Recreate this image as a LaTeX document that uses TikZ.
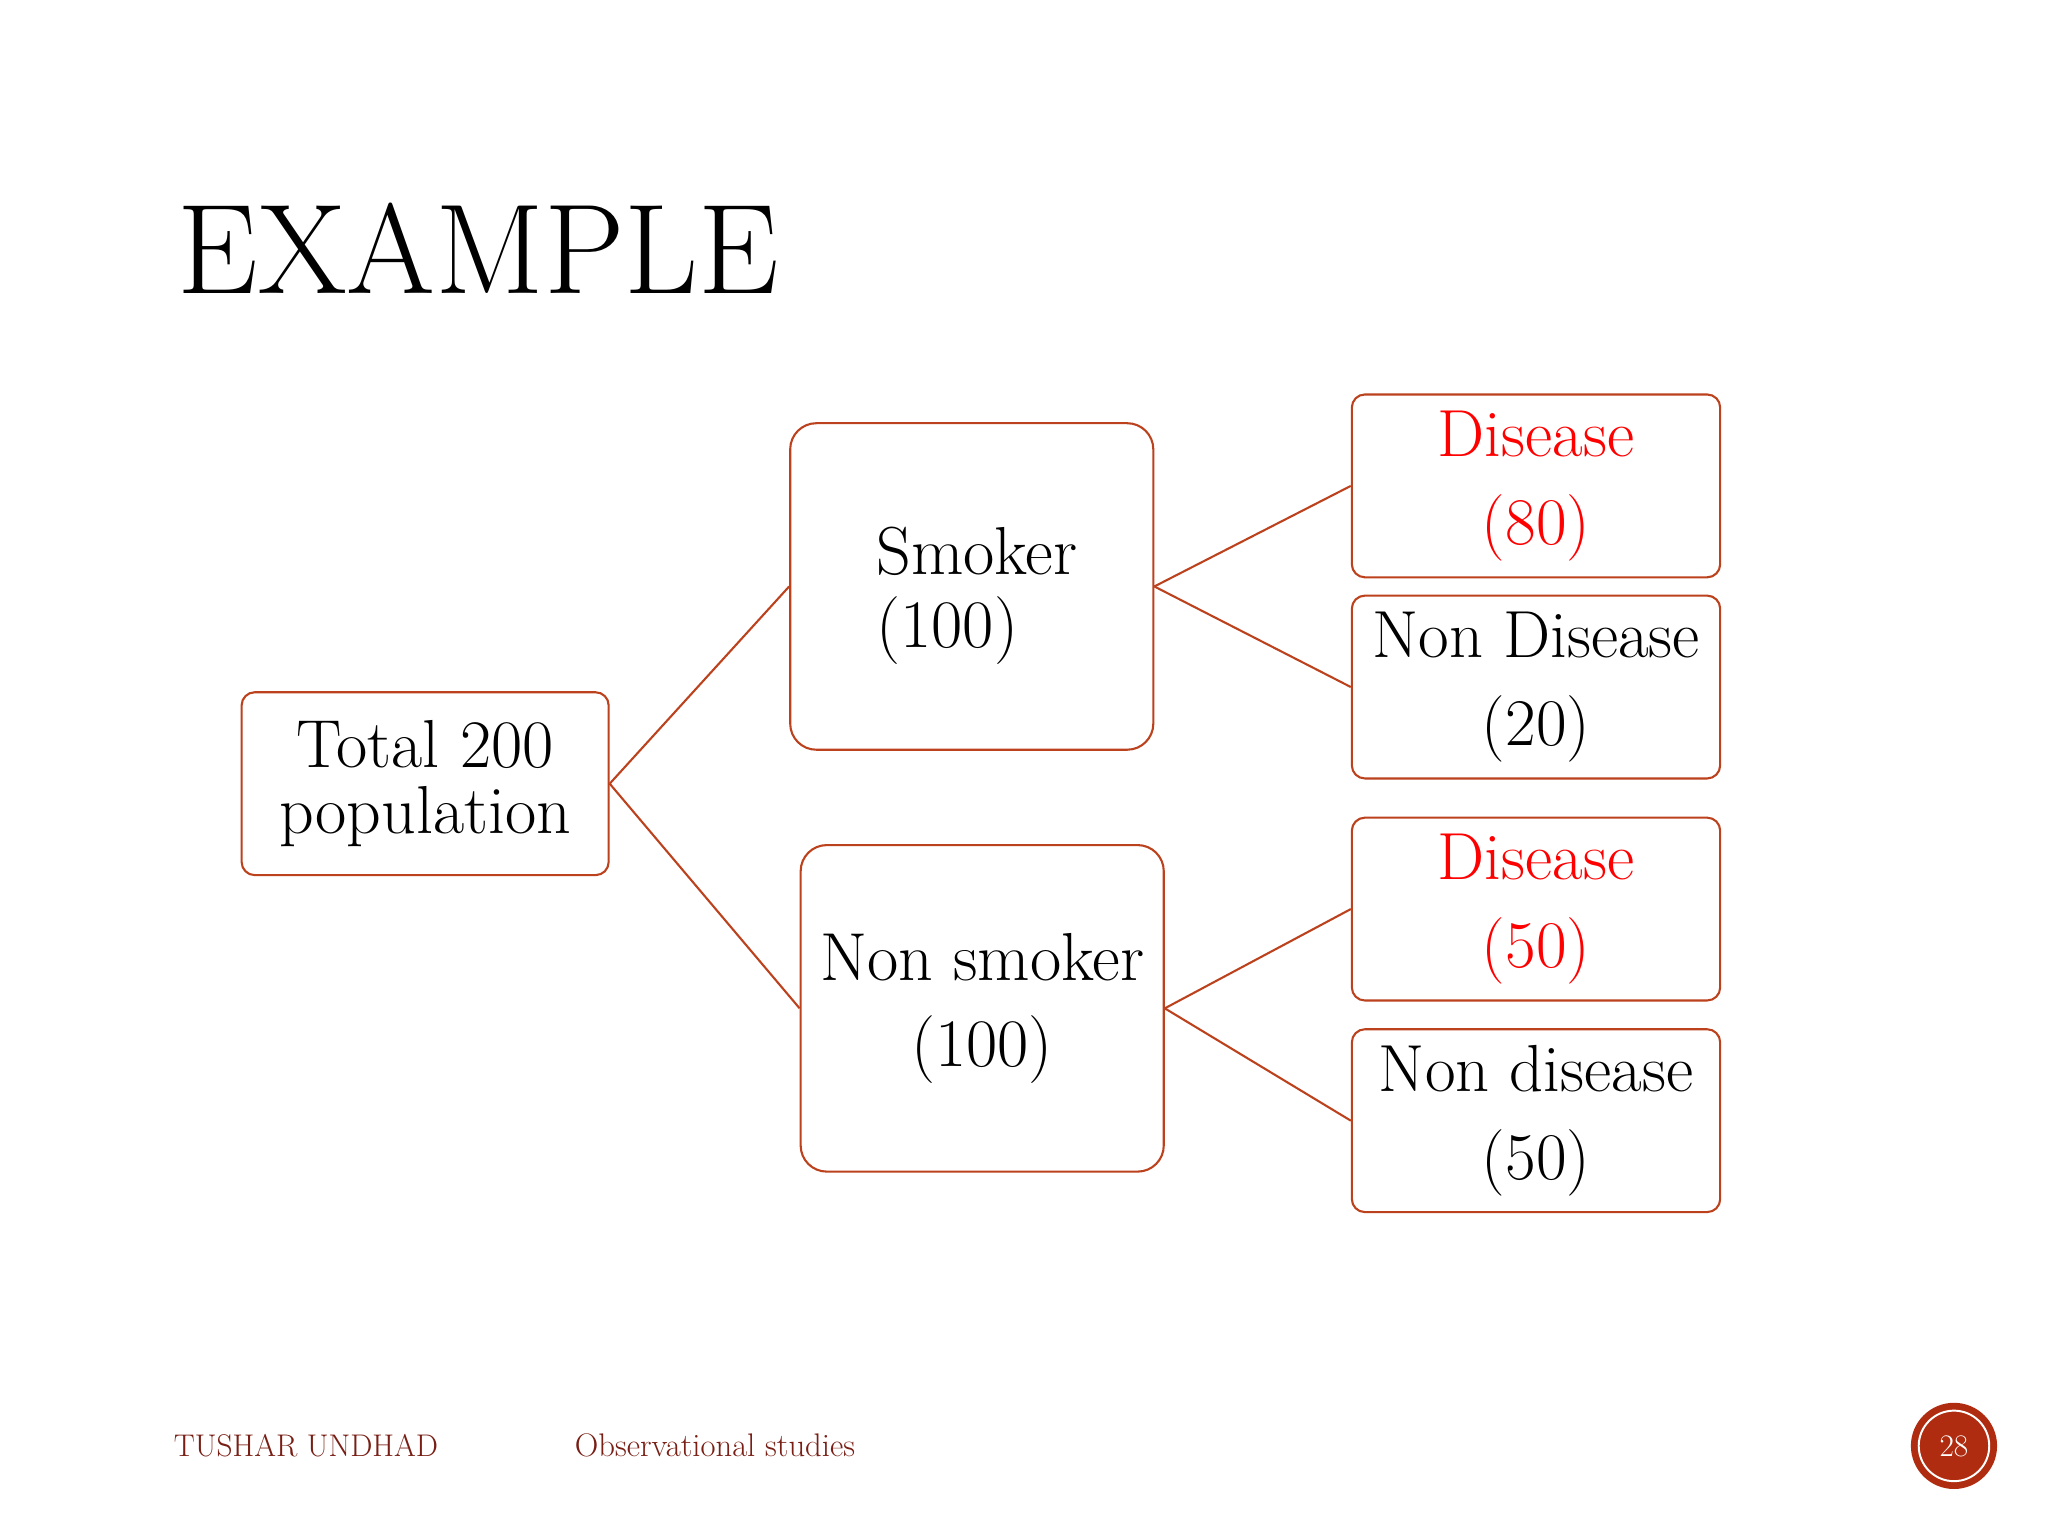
\documentclass[tikz,border=0pt]{standalone}
\usepackage{xcolor}
\definecolor{brd}{RGB}{188,66,30}
\definecolor{dred}{RGB}{120,30,20}
\definecolor{badge}{RGB}{176,44,16}
\begin{document}
\begin{tikzpicture}[x=1pt,y=-1pt,
  box/.style={draw=brd,line width=1.6pt,rounded corners=10pt,inner sep=0pt,align=center},
  leaf/.style={box,minimum width=282pt,minimum height=140pt,font=\fontsize{51}{67}\selectfont},
  mid/.style={box,rounded corners=20pt,minimum width=278pt,minimum height=250pt,font=\fontsize{52}{58}\selectfont},
  conn/.style={draw=brd,line width=1.6pt}]
\useasboundingbox (0,0) rectangle (1568,1176);
\fill[white] (0,0) rectangle (1568,1176);
\node[anchor=base west,font=\fontsize{98}{98}\selectfont,inner sep=0pt] (title) at (136,225) {EXAMPLE};
\node[box,minimum width=281pt,minimum height=140pt,font=\fontsize{52}{50}\selectfont] (tot) at (325.5,600) {Total 200\\population};
\node[mid] (smk) at (744,449) {};
\node[align=left,inner sep=0pt,font=\fontsize{52}{56}\selectfont] (smkt) at (748,456) {Smoker\\(100)};
\node[mid,font=\fontsize{52}{66}\selectfont] (nsm) at (752,772) {Non smoker\\(100)};
\node[leaf,text=red] (d1) at (1176,372) {Disease\\(80)};
\node[leaf] (n1) at (1176,526) {Non Disease\\(20)};
\node[leaf,text=red] (d2) at (1176,696) {Disease\\(50)};
\node[leaf] (n2) at (1176,858) {Non disease\\(50)};
\draw[conn] (tot.east) -- (smk.west);
\draw[conn] (tot.east) -- (nsm.west);
\draw[conn] (smk.east) -- (d1.west);
\draw[conn] (smk.east) -- (n1.west);
\draw[conn] (nsm.east) -- (d2.west);
\draw[conn] (nsm.east) -- (n2.west);
\node[anchor=base west,text=dred,font=\fontsize{24}{24}\selectfont,inner sep=0pt] (auth) at (133,1115) {TUSHAR UNDHAD};
\node[anchor=base west,text=dred,font=\fontsize{25}{25}\selectfont,inner sep=0pt] (topic) at (440,1115) {Observational studies};
\node[circle,fill=badge,minimum size=66pt,inner sep=0pt] (badge) at (1496,1107) {};
\draw[white,line width=1.5pt] (badge.center) circle (27);
\node[text=white,font=\fontsize{24}{24}\selectfont] (num) at (badge.center) {28};
\end{tikzpicture}
\end{document}
